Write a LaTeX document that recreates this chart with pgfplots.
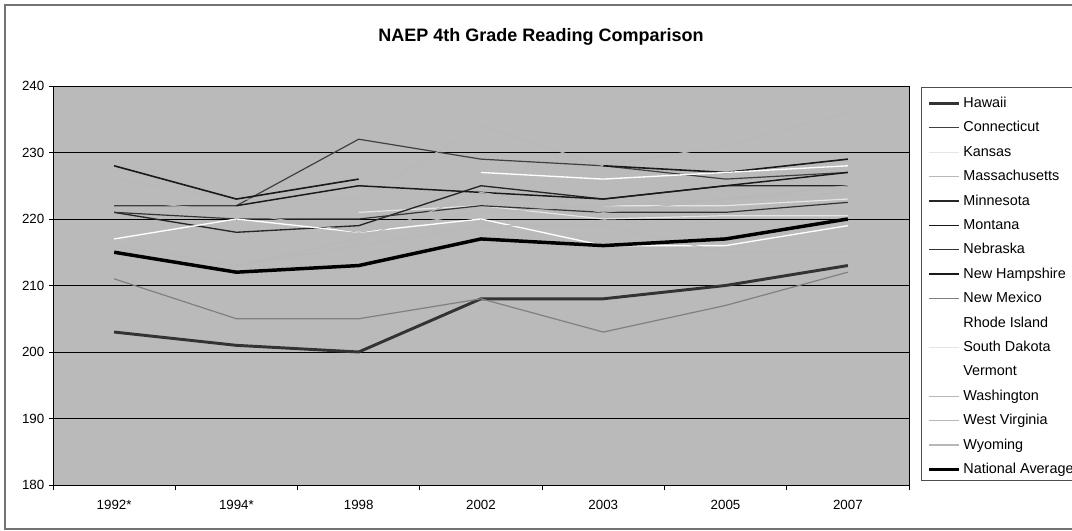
\documentclass[border=0pt]{standalone}
\usepackage{fontspec}
\setmainfont{Liberation Sans}
\usepackage{pgfplots}
\usepackage{pgfplotstable}
\pgfplotsset{compat=1.18}

\definecolor{plotbg}{RGB}{186,186,186}
\definecolor{hidden}{RGB}{184,184,184}

% NAEP grade 4 reading, average scale scores (nan = state did not take part)
\pgfplotstableread{
x  HI  CT  KS    MA  MN  MT  NE    NH  NM  RI  SD  VT  WA  WV  WY  Nat
0  203 222 nan   226 221 nan 221   228 211 217 nan nan nan 216 223 215
1  201 222 nan   223 218 222 220   223 205 220 nan nan 213 213 221 212
2  200 232 221   223 219 225 220   226 205 218 nan nan 217 216 218 213
3  208 229 222   234 225 224 222   nan 208 220 nan 227 224 219 221 217
4  208 228 220   228 223 223 221   228 203 216 222 226 221 219 222 216
5  210 226 220.5 231 225 225 221   227 207 216 222 227 223 215 223 217
6  213 227 220.5 236 225 227 222.5 229 212 219 223 228 224 215 225 220
}\naep

\begin{document}
\begin{tikzpicture}
\useasboundingbox (0,0) rectangle (804pt,398.25pt);
% chart frame
\draw[black!55, line width=0.8pt] (3.75pt,1.5pt) rectangle (830pt,394.5pt);
\node[anchor=base, font=\bfseries\fontsize{13.5}{16}\selectfont] at (405.75pt,366.75pt)
  {NAEP 4th Grade Reading Comparison};
% legend frame
\draw[black!70, line width=0.6pt, fill=white] (690.75pt,38.25pt) rectangle (830pt,333pt);

\begin{axis}[
  at={(39.75pt,34.5pt)}, anchor=south west,
  scale only axis, width=642pt, height=299.25pt,
  xmin=-0.5, xmax=6.5, ymin=180, ymax=240,
  xtick={0,...,6},
  xticklabels={1992*,1994*,1998,2002,2003,2005,2007},
  minor xtick={-0.5,0.5,...,6.5},
  ytick={180,190,...,240},
  ymajorgrids,
  grid style={black, line width=0.6pt},
  axis background/.style={fill=plotbg},
  axis line style={black, line width=0.6pt},
  tick align=outside, xtick pos=bottom, ytick pos=left,
  major x tick style={draw=none},
  major tick length=3pt, minor tick length=4pt,
  tick style={black, line width=0.6pt},
  ticklabel style={font=\fontsize{10}{12}\selectfont},
  xticklabel style={yshift=-5pt},
  /pgf/number format/assume math mode=true,
  unbounded coords=jump,
  legend cell align=left,
  legend image code/.code={\draw[#1] (0pt,0pt) -- (22.5pt,0pt);},
  legend style={at={(1.021,0.9737)}, anchor=north west,
    draw=none, fill=none, inner sep=0pt, row sep=8.3pt,
    font=\fontsize{10.8}{12}\selectfont,
    nodes={inner sep=0pt, text height=8pt, text depth=2pt},
    /tikz/every odd column/.append style={column sep=2pt}},
]
\addplot[black!80, line width=2.2pt] table[x=x, y=HI] {\naep};
\addplot[black!75, line width=0.9pt] table[x=x, y=CT] {\naep};
\addplot[white!90!black, line width=0.9pt] table[x=x, y=KS] {\naep};
\addplot[hidden, line width=0.8pt] table[x=x, y=MA] {\naep};
\addplot[black!85, line width=1pt] table[x=x, y=MN] {\naep};
\addplot[black!90, line width=1.1pt] table[x=x, y=MT] {\naep};
\addplot[black!80, line width=0.9pt] table[x=x, y=NE] {\naep};
\addplot[black!90, line width=1.2pt] table[x=x, y=NH] {\naep};
\addplot[black!50, line width=0.9pt] table[x=x, y=NM] {\naep};
\addplot[white, line width=1pt] table[x=x, y=RI] {\naep};
\addplot[white!90!black, line width=0.9pt] table[x=x, y=SD] {\naep};
\addplot[white, line width=1pt] table[x=x, y=VT] {\naep};
\addplot[hidden, line width=0.8pt] table[x=x, y=WA] {\naep};
\addplot[hidden, line width=0.8pt] table[x=x, y=WV] {\naep};
\addplot[hidden, line width=0.8pt] table[x=x, y=WY] {\naep};
\addplot[black, line width=2.6pt] table[x=x, y=Nat] {\naep};
\legend{Hawaii,Connecticut,Kansas,Massachusetts,Minnesota,Montana,Nebraska,New Hampshire,New Mexico,Rhode Island,South Dakota,Vermont,Washington,West Virginia,Wyoming,National Average}
\end{axis}
\end{tikzpicture}
\end{document}
